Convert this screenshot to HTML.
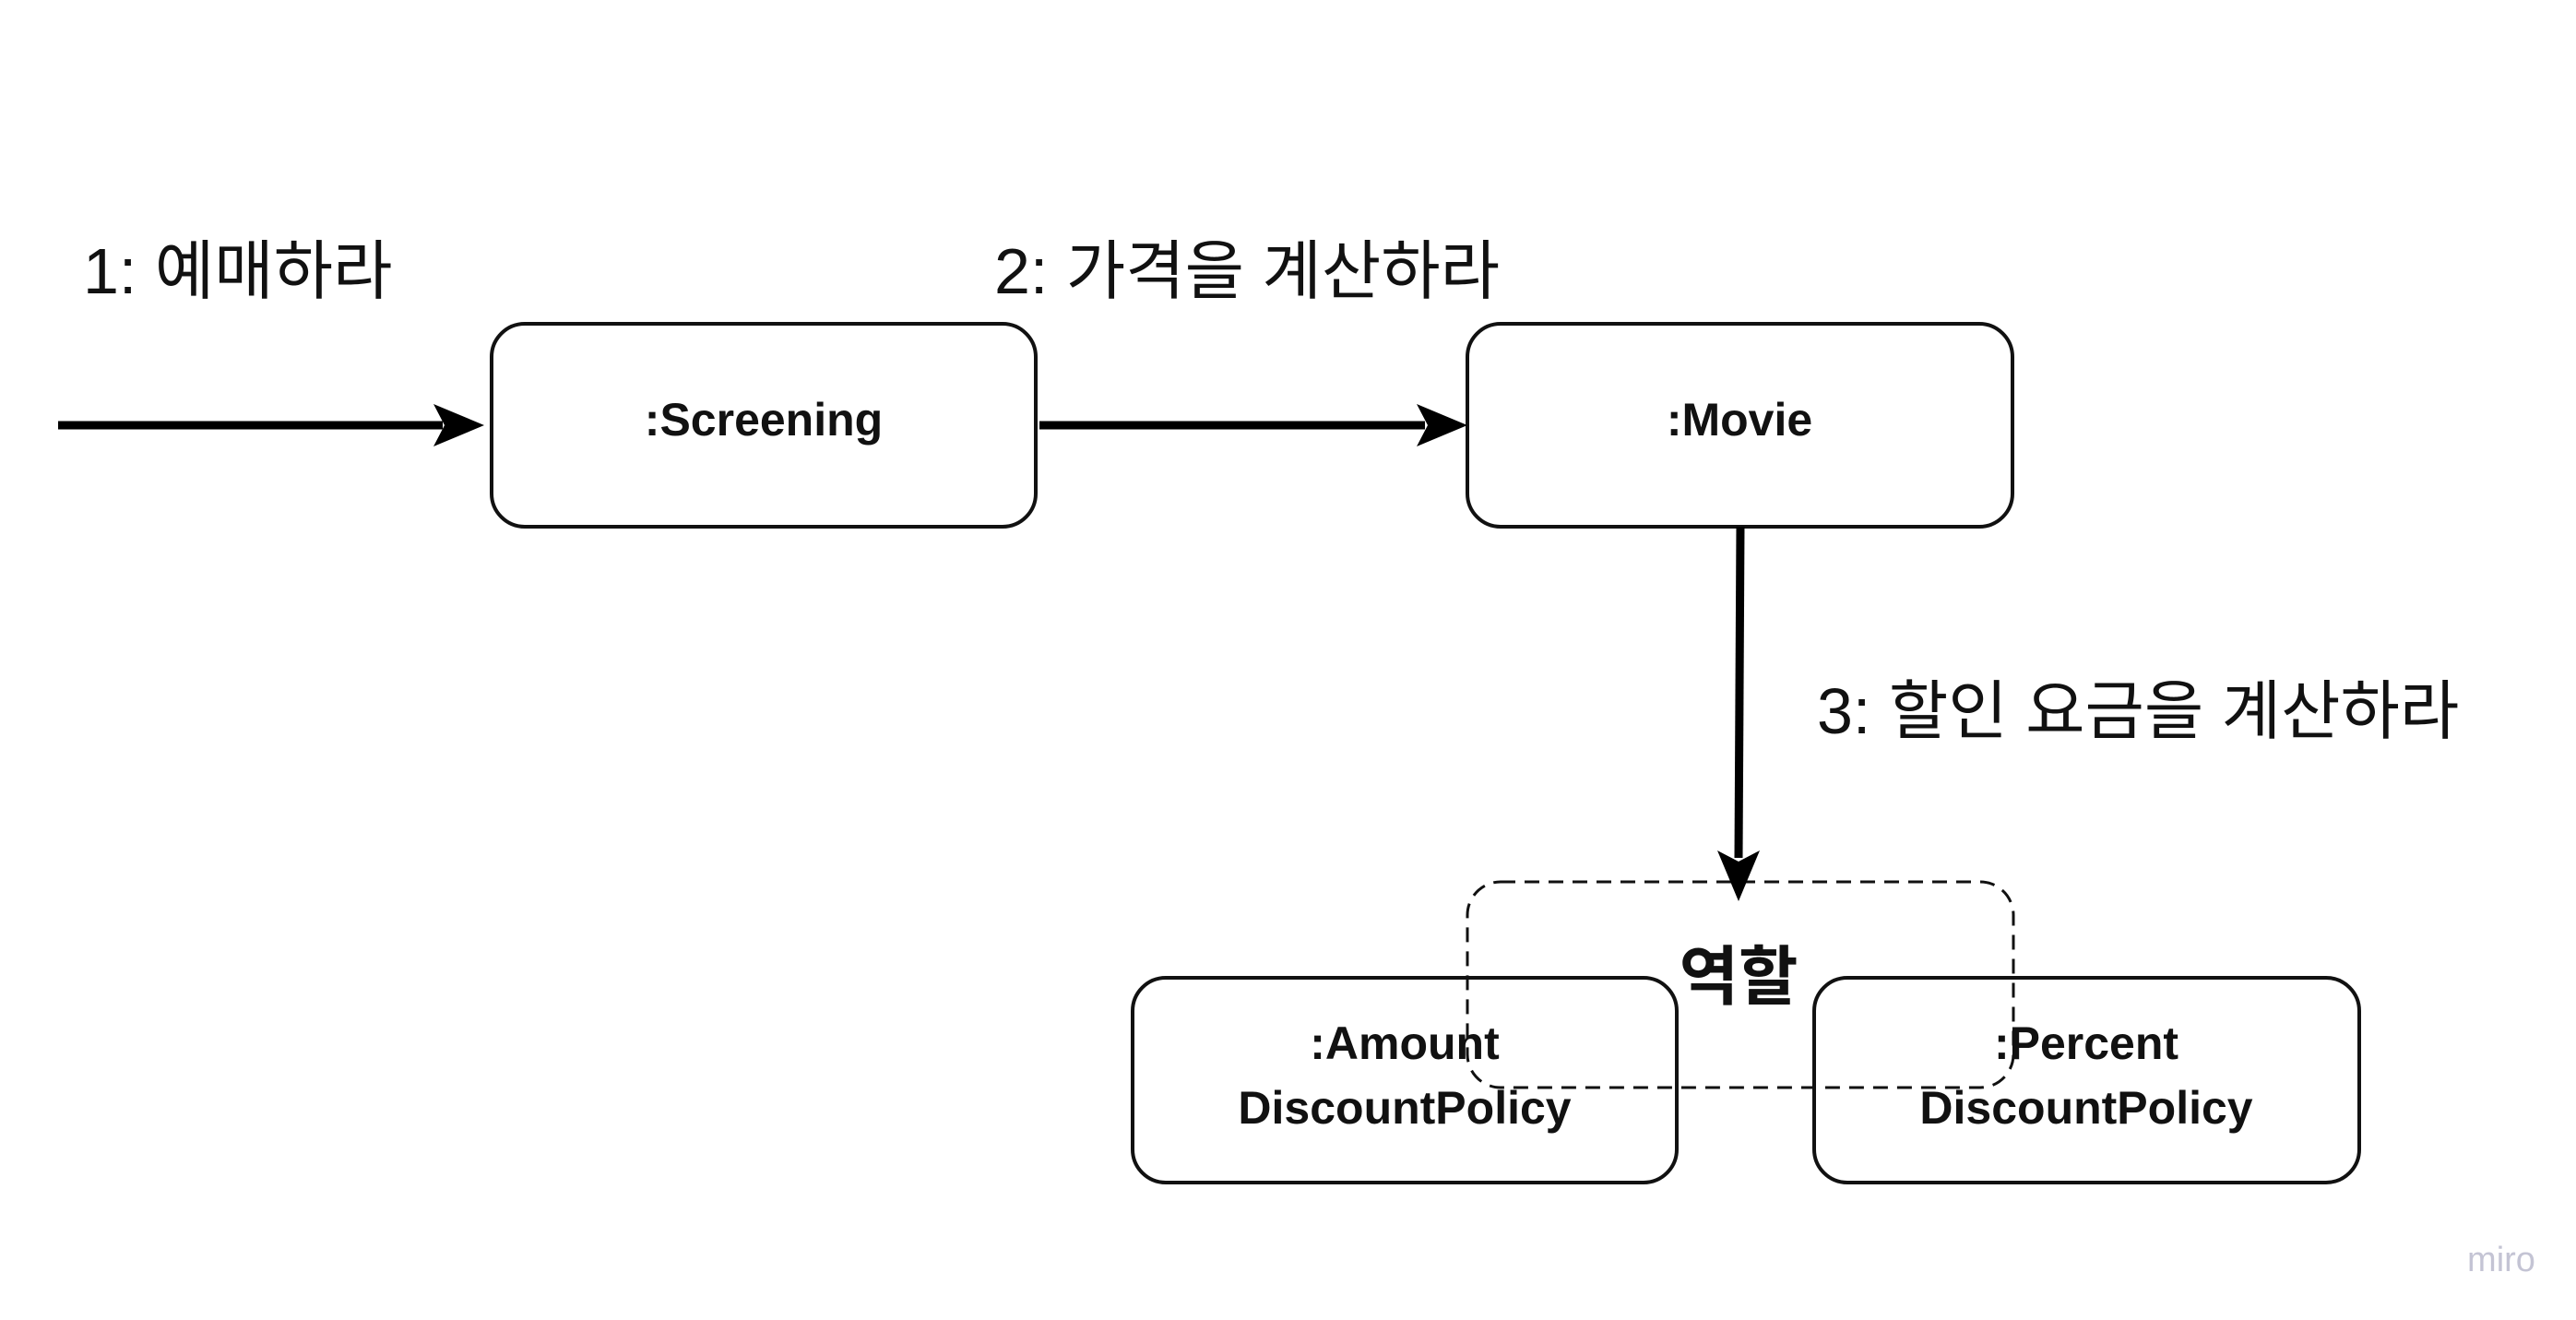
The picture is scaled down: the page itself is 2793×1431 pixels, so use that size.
<!DOCTYPE html>
<html><head><meta charset="utf-8"><style>html,body{margin:0;padding:0;background:#fff}svg{display:block}</style></head>
<body>
<svg width="2793" height="1431" viewBox="0 0 2793 1431" xmlns="http://www.w3.org/2000/svg" font-family="'Liberation Sans','Noto Sans CJK KR',sans-serif">
<rect width="2793" height="1431" fill="#fff"/>
<g fill="#fff" stroke="#111" stroke-width="4">
<rect x="533" y="351" width="590" height="220" rx="36"/>
<rect x="1591" y="351" width="591" height="220" rx="36"/>
<rect x="1228" y="1060" width="590" height="222" rx="36"/>
<rect x="1967" y="1060" width="591" height="222" rx="36"/>
</g>
<rect x="1591" y="956" width="592" height="223" rx="36" fill="none" stroke="#111" stroke-width="3" stroke-dasharray="16 10"/>
<g stroke="#000" stroke-width="9">
<line x1="63" y1="461" x2="480" y2="461"/>
<line x1="1127" y1="461" x2="1545" y2="461"/>
<line x1="1887" y1="571" x2="1885" y2="930"/>
</g>
<g fill="#000">
<polygon points="525,461 470,438 482,461 470,484"/>
<polygon points="1591,461 1536,438 1548,461 1536,484"/>
<polygon points="1885,977 1862,922 1885,934 1908,922"/>
</g>
<g font-size="70" fill="#111">
<text x="90" y="318">1: 예매하라</text>
<text x="1078" y="318">2: 가격을 계산하라</text>
<text x="1970" y="795">3: 할인 요금을 계산하라</text>
</g>
<g font-size="50" font-weight="bold" fill="#111" text-anchor="middle">
<text x="828" y="472">:Screening</text>
<text x="1886" y="472">:Movie</text>
<text x="1523" y="1148">:Amount</text>
<text x="1523" y="1218">DiscountPolicy</text>
<text x="2262" y="1148">:Percent</text>
<text x="2262" y="1218">DiscountPolicy</text>
<text x="1885" y="1083" font-size="70">역할</text>
</g>
<text x="2712" y="1378" font-size="38" fill="#c4c4d4" text-anchor="middle">miro</text>
</svg>
</body></html>
